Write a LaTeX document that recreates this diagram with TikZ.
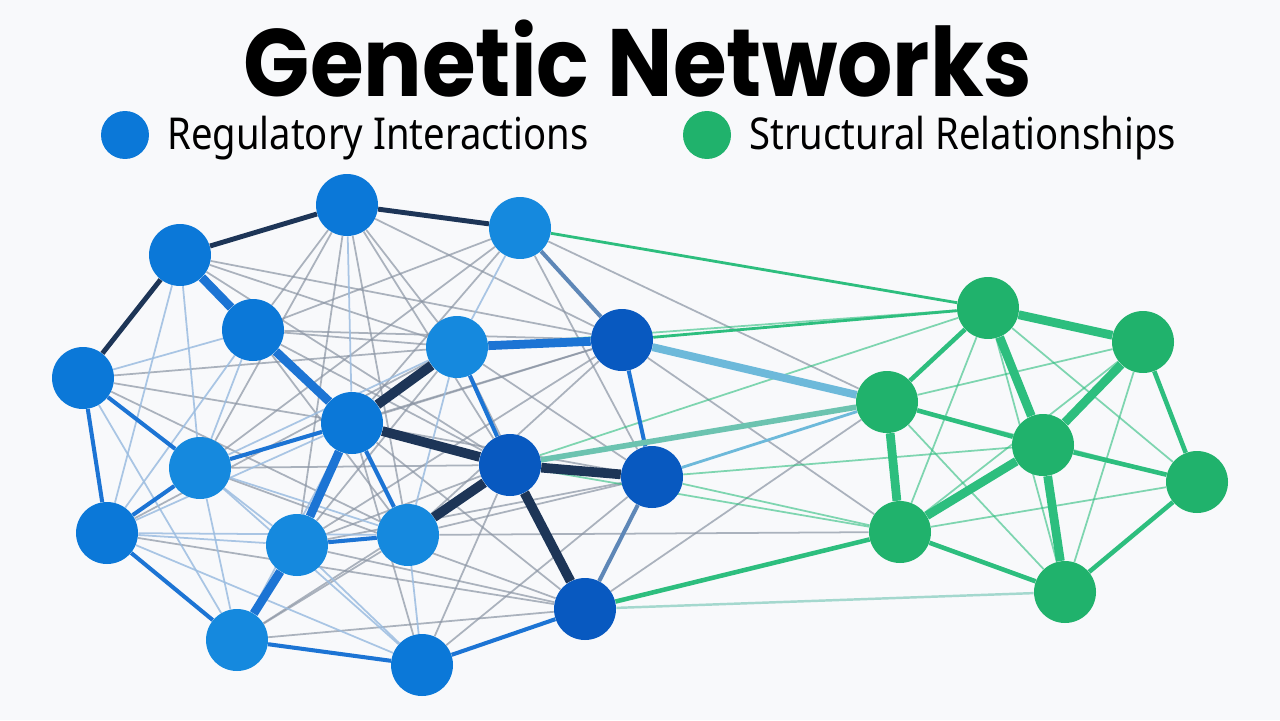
\documentclass[tikz,border=0pt]{standalone}
\usepackage{fontspec}
\usepackage{graphicx}
\usepackage{tikz}
\newfontfamily\titlefont{Poppins}
\newfontfamily\legendfont{Noto Sans}[FakeStretch=0.87]
\definecolor{canvasbg}{HTML}{F8F9FB}
\definecolor{geneblue}{HTML}{0B78D8}
\definecolor{genesky}{HTML}{1589DE}
\definecolor{genedeep}{HTML}{0859C0}
\definecolor{genegreen}{HTML}{20B26C}
\definecolor{navy}{HTML}{1D3557}
\definecolor{linkblue}{HTML}{1C74D4}
\definecolor{linkgrey}{HTML}{8A94A3}
\definecolor{linkpale}{HTML}{9CBDE0}
\definecolor{linkgreen}{HTML}{2DBE7E}
\definecolor{linkteal}{HTML}{6CC3B0}
\definecolor{linkcyan}{HTML}{6DB9DA}
\pgfdeclarelayer{canvas}
\pgfdeclarelayer{links}
\pgfsetlayers{canvas,links,main}

\begin{document}
\begin{tikzpicture}[
    x=0.02cm,
    y=-0.02cm,
    gene/.style={circle, inner sep=0pt, minimum size=1.24cm},
    faint/.style={draw=linkgrey, line width=1pt, opacity=0.7},
    pale/.style={draw=linkpale, line width=1pt, opacity=0.85},
    softgreen/.style={draw=linkgreen, line width=1pt, opacity=0.6},
    mediumlink/.style={draw=linkblue, line width=2.3pt},
    heavylink/.style={draw=linkblue, line width=5pt},
    navylink/.style={draw=navy, line width=2.8pt},
    heavynavy/.style={draw=navy, line width=5.5pt},
    greenlink/.style={draw=linkgreen, line width=2.6pt},
    heavygreen/.style={draw=linkgreen, line width=5pt},
    legendtext/.style={anchor=west, inner sep=0pt, font=\legendfont\fontsize{25}{30}\selectfont}
  ]
    \begin{pgfonlayer}{canvas}
      \fill[canvasbg] (0,0) rectangle (1280,720);
    \end{pgfonlayer}
    \useasboundingbox (0,0) rectangle (1280,720);

    \node[inner sep=0pt, font=\titlefont\bfseries\fontsize{49.5}{54}\selectfont] (title) at (638,59) {\scalebox{1}[1.1]{Genetic Networks}};
    \node[gene, minimum size=0.96cm, fill=geneblue] (keyblue) at (125,135) {};
    \node[legendtext] (keybluetext) at (167,138) {Regulatory Interactions};
    \node[gene, minimum size=0.96cm, fill=genegreen] (keygreen) at (707,135) {};
    \node[legendtext] (keygreentext) at (749,138) {Structural Relationships};

    \foreach \n/\x/\y/\c in {
      b1/347/205/geneblue, b2/180/255/geneblue, b3/520/228/genesky,
      b4/253/330/geneblue, b5/457/347/genesky, b6/622/340/genedeep,
      b7/83/378/geneblue, b8/352/423/geneblue, b9/510/465/genedeep,
      b10/200/468/genesky, b11/652/477/genedeep, b12/107/533/geneblue,
      b13/408/535/genesky, b14/297/545/genesky, b15/585/609/genedeep,
      b16/237/640/genesky, b17/422/665/geneblue} {
      \node[gene, fill=\c] (\n) at (\x,\y) {};
    }
    \foreach \n/\x/\y in {
      g1/988/308, g2/1143/342, g3/887/402, g4/1043/445,
      g5/1197/482, g6/900/532, g7/1065/592} {
      \node[gene, fill=genegreen] (\n) at (\x,\y) {};
    }

    \begin{pgfonlayer}{links}
      \foreach \a/\b in {
        b1/b4, b1/b5, b1/b6, b1/b9, b1/b10, b1/b13, b1/b14,
        b2/b5, b2/b6, b2/b9, b3/b4, b3/b8, b3/b10, b3/b11,
        b4/b5, b4/b6, b4/b9, b4/b13, b5/b14, b5/b11, b5/b15,
        b6/b8, b6/b14, b6/b13, b6/b10, b7/b8, b7/b5, b7/b13,
        b8/b15, b8/b11, b8/b17, b9/b10, b9/b14, b9/b17, b9/b16,
        b10/b15, b11/b13, b11/b17, b11/b14, b12/b15, b13/b16,
        b14/b15, b16/b15, b5/b12, b3/g3, b6/g6, b15/g3, b13/g6} {
        \draw[faint] (\a) -- (\b);
      }
      \foreach \a/\b in {
        b1/b8, b2/b8, b2/b10, b2/b12, b3/b5, b4/b7, b4/b10, b4/b12,
        b5/b10, b7/b14, b7/b16, b8/b12, b8/b16, b10/b13, b10/b16,
        b10/b17, b12/b13, b12/b14, b12/b17, b13/b17, b14/b17, b5/b13} {
        \draw[pale] (\a) -- (\b);
      }
      \foreach \a/\b in {
        g1/g6, g1/g7, g3/g2, g3/g7, g6/g5, g2/g7, g1/g5, g3/g5,
        g6/g2, b5/g1, b9/g1, b9/g6, b11/g4, b11/g6} {
        \draw[softgreen] (\a) -- (\b);
      }
      \foreach \a/\b in {
        b7/b10, b7/b12, b12/b10, b10/b8, b12/b16, b16/b17, b17/b15,
        b6/b11, b5/b9, b8/b13, b14/b13} {
        \draw[mediumlink] (\a) -- (\b);
      }
      \draw[mediumlink, draw=linkgrey!60!linkblue] (b3) -- (b6);
      \draw[mediumlink, draw=linkgrey!60!linkblue] (b11) -- (b15);
      \draw[mediumlink, draw=linkcyan, line width=1.6pt] (b11) -- (g3);
      \foreach \a/\b in {b2/b4, b4/b8, b5/b6, b8/b14, b14/b16} {
        \draw[heavylink] (\a) -- (\b);
      }
      \foreach \a/\b in {b2/b1, b1/b3, b2/b7} {
        \draw[navylink] (\a) -- (\b);
      }
      \foreach \a/\b in {b8/b5, b8/b9, b9/b11, b9/b15, b9/b13} {
        \draw[heavynavy] (\a) -- (\b);
      }
      \draw[greenlink, line width=1.6pt] (b3) -- (g1);
      \draw[greenlink, line width=1.6pt] (b6) -- (g1);
      \draw[heavylink, draw=linkcyan, line width=4.5pt] (b6) -- (g3);
      \draw[greenlink, draw=linkteal, line width=3.2pt] (b9) -- (g3);
      \draw[greenlink] (b15) -- (g6);
      \draw[softgreen, draw=linkteal, line width=1.4pt] (b15) -- (g7);
      \foreach \a/\b in {g1/g2, g1/g4, g2/g4, g3/g6, g6/g4, g4/g7} {
        \draw[heavygreen] (\a) -- (\b);
      }
      \foreach \a/\b in {g4/g5, g3/g1, g3/g4, g2/g5, g6/g7, g7/g5} {
        \draw[greenlink] (\a) -- (\b);
      }
    \end{pgfonlayer}
\end{tikzpicture}
\end{document}
